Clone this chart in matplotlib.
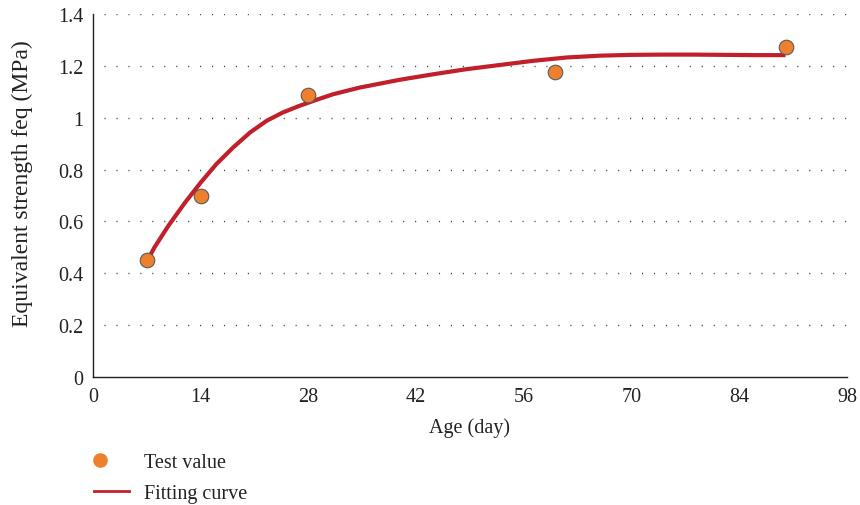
import numpy as np
import matplotlib.pyplot as plt
from matplotlib.lines import Line2D
from matplotlib.legend_handler import HandlerLine2DCompound

plt.rcParams['font.family'] = ['Liberation Serif', 'DejaVu Serif']

# measured strength
age_test = [7, 14, 28, 60, 90]
feq_test = [0.45, 0.70, 1.09, 1.175, 1.275]

# fitted curve, read along its length
age_fit = [7, 8, 9.8, 12, 14, 16, 18.2, 20.4, 22.6, 24.7, 26.9, 29.1, 31.2,
           34.7, 37.3, 39.9, 44.2, 48.6, 52.9, 57.2, 61.6, 66, 70, 74, 78,
           82, 86, 90]
feq_fit = [0.445, 0.50, 0.583, 0.674, 0.75, 0.82, 0.885, 0.943, 0.989, 1.021,
           1.047, 1.070, 1.091, 1.117, 1.132, 1.147, 1.168, 1.188, 1.204,
           1.220, 1.233, 1.240, 1.243, 1.244, 1.244, 1.243, 1.242, 1.242]

xticks = [0, 14, 28, 42, 56, 70, 84, 98]
yticks = [0, 0.2, 0.4, 0.6, 0.8, 1, 1.2, 1.4]
ytick_labels = ['0', '0.2', '0.4', '0.6', '0.8', '1', '1.2', '1.4']


class LeftMarker(HandlerLine2DCompound):
    # put the legend dot near the left end of the handle
    def get_xdata(self, legend, xdescent, ydescent, width, height, fontsize):
        xdata, xdata_marker = super().get_xdata(legend, xdescent, ydescent,
                                                width, height, fontsize)
        return xdata, [-xdescent + 0.17 * width]


fig = plt.figure(figsize=(8.6, 5.06), dpi=100)
ax = fig.add_axes([0.108, 0.253, 0.877, 0.717])

for y in yticks[1:]:
    ax.axhline(y, xmin=0.015, xmax=1, color='#444444', lw=1.0,
               linestyle=(0, (0.8, 7.8)), zorder=1)

ax.plot(age_fit, feq_fit, color='#C1202B', lw=3.0, solid_capstyle='butt', zorder=2)
ax.scatter(age_test, feq_test, s=110, color='#EE7F2D', edgecolors='#5a5a5a',
           linewidths=0.8, zorder=3)

ax.set_xlim(0, 98)
ax.set_ylim(0, 1.4)
ax.set_xticks(xticks)
ax.set_yticks(yticks)
ax.set_yticklabels(ytick_labels)
ax.tick_params(length=0, labelsize=14.5, pad=7, colors='#222222')
for s in ['top', 'right']:
    ax.spines[s].set_visible(False)
for s in ['left', 'bottom']:
    ax.spines[s].set_color('#222222')
    ax.spines[s].set_linewidth(1.0)

ax.set_xlabel('Age (day)', fontsize=14.5, color='#222222', labelpad=8)
ax.set_ylabel('Equivalent strength feq (MPa)', fontsize=17, color='#222222')
ax.yaxis.set_label_coords(-0.08, 0.535)

dot = Line2D([], [], marker='o', linestyle='none', markersize=9.5,
             markerfacecolor='#EE7F2D', markeredgecolor='#EE7F2D')
curve = Line2D([], [], color='#C1202B', lw=2.0)
fig.legend([dot, curve], ['Test value', 'Fitting curve'], loc='upper left',
           bbox_to_anchor=(94 / 860, 1 - 454 / 506), frameon=False,
           fontsize=14.5, borderpad=0, borderaxespad=0,
           handlelength=1.75, handletextpad=0.75, labelspacing=0.6,
           labelcolor='#222222', handler_map={dot: LeftMarker(numpoints=1)})

fig.savefig('out.png', dpi=100)
